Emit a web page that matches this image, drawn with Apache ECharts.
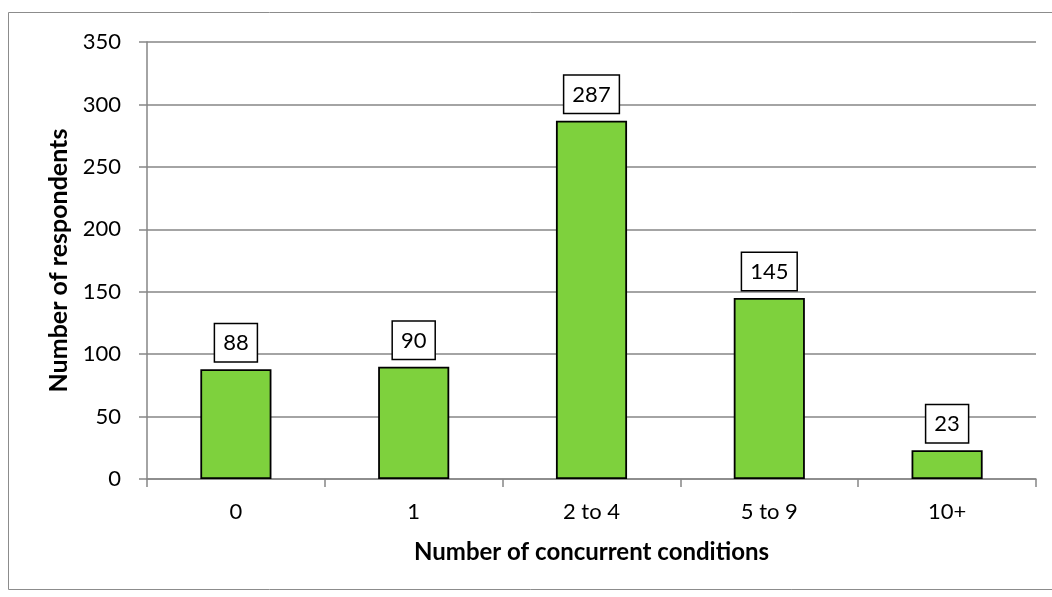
<!DOCTYPE html>
<html><head><meta charset="utf-8">
<script src="https://cdn.jsdelivr.net/npm/echarts@6/dist/echarts.min.js"></script>
<style>html,body{margin:0;padding:0;background:#fff}#c{width:1052px;height:597px}</style>
</head><body><div id="c"></div>
<script>
const categories = ["0", "1", "2 to 4", "5 to 9", "10+"];
const respondents = [88, 90, 287, 145, 23];
const yTicks = { min: 0, max: 350, interval: 50 };
const xTitle = "Number of concurrent conditions";
const yTitle = "Number of respondents";

const font = "Lato, 'Open Sans', sans-serif";
const chart = echarts.init(document.getElementById('c'), null, {renderer: 'canvas'});
chart.setOption({
  animation: false,
  backgroundColor: '#fff',
  graphic: [{
    type: 'rect', shape: {x: 8.5, y: 12.5, width: 1100, height: 577},
    style: {fill: 'none', stroke: '#8c8c8c', lineWidth: 1}, silent: true
  }],
  grid: {left: 147, right: 16, top: 42, bottom: 118, containLabel: false},
  xAxis: {
    type: 'category', data: categories,
    name: xTitle, nameLocation: 'middle', nameGap: 61,
    nameTextStyle: {fontFamily: font, fontWeight: 'bold', fontSize: 24, color: '#000'},
    axisLine: {lineStyle: {color: '#868686', width: 1.5}},
    axisTick: {show: true, alignWithLabel: false, length: 8, lineStyle: {color: '#868686', width: 1.5}},
    axisLabel: {fontFamily: font, fontSize: 22, color: '#000', margin: 22}
  },
  yAxis: {
    type: 'value', min: yTicks.min, max: yTicks.max, interval: yTicks.interval,
    name: yTitle, nameLocation: 'middle', nameGap: 74, nameRotate: 90,
    nameTextStyle: {fontFamily: font, fontWeight: 'bold', fontSize: 25, color: '#000'},
    axisLine: {show: true, lineStyle: {color: '#868686', width: 1.5}},
    axisTick: {show: true, length: 8, lineStyle: {color: '#868686', width: 1.5}},
    axisLabel: {fontFamily: font, fontSize: 22, color: '#000', margin: 26},
    splitLine: {lineStyle: {color: '#868686', width: 1.5}}
  },
  series: [{
    type: 'bar', data: respondents, barWidth: '40%',
    itemStyle: {color: '#7ED13D', borderColor: '#000', borderWidth: 1.8},
    label: {
      show: true, position: 'top', distance: 8,
      fontFamily: font, fontSize: 22, color: '#000', lineHeight: 24,
      backgroundColor: '#fff', borderColor: '#000', borderWidth: 1.5,
      padding: [7, 8, 6, 8]
    }
  }]
});
</script></body></html>
